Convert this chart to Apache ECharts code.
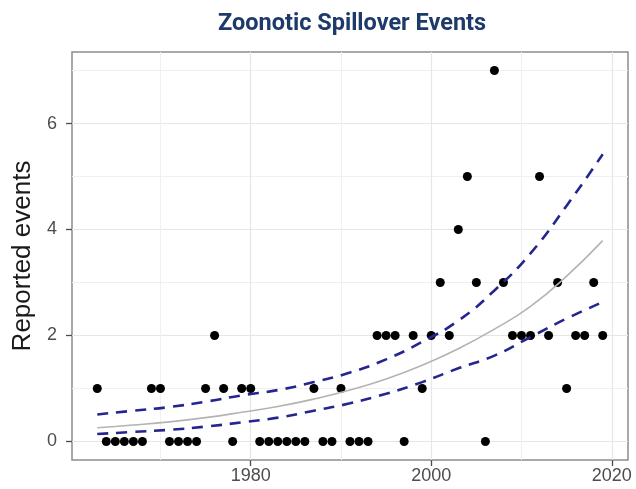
<!DOCTYPE html>
<html>
<head>
<meta charset="utf-8">
<script src="https://cdn.jsdelivr.net/npm/echarts@6/dist/echarts.min.js"></script>
<style>
  html, body { margin: 0; padding: 0; background: #fff; }
  #chart { width: 636px; height: 489px; }
</style>
</head>
<body>
<div id="chart"></div>
<script>
// reported events per year
var years = [1963, 1964, 1965, 1966, 1967, 1968, 1969, 1970, 1971, 1972,
             1973, 1974, 1975, 1976, 1977, 1978, 1979, 1980, 1981, 1982,
             1983, 1984, 1985, 1986, 1987, 1988, 1989, 1990, 1991, 1992,
             1993, 1994, 1995, 1996, 1997, 1998, 1999, 2000, 2001, 2002,
             2003, 2004, 2005, 2006, 2007, 2008, 2009, 2010, 2011, 2012,
             2013, 2014, 2015, 2016, 2017, 2018, 2019];
var events = [1, 0, 0, 0, 0, 0, 1, 1, 0, 0,
              0, 0, 1, 2, 1, 0, 1, 1, 0, 0,
              0, 0, 0, 0, 1, 0, 0, 1, 0, 0,
              0, 2, 2, 2, 0, 2, 1, 2, 3, 2,
              4, 5, 3, 0, 7, 3, 2, 2, 2, 5,
              2, 3, 1, 2, 2, 3, 2];

// fitted trend and interval, every 4 years
var fitYears = [1963, 1967, 1971, 1975, 1979, 1983, 1987, 1991, 1995, 1999, 2003, 2007, 2011, 2015, 2019];
var fitted   = [0.26, 0.31, 0.37, 0.45, 0.55, 0.66, 0.80, 0.97, 1.18, 1.44, 1.75, 2.12, 2.55, 3.12, 3.79];
var upper    = [0.51, 0.58, 0.65, 0.75, 0.87, 0.97, 1.12, 1.30, 1.55, 1.88, 2.28, 2.85, 3.55, 4.45, 5.42];
var lower    = [0.14, 0.18, 0.22, 0.28, 0.36, 0.45, 0.58, 0.72, 0.90, 1.12, 1.38, 1.62, 1.97, 2.32, 2.63];

var xMajor = [1980, 2000, 2020];
var xMinor = [1970, 1990, 2010];
var yMajor = [0, 2, 4, 6];
var yMinor = [1, 3, 5, 7];

function pairs(xs, ys) {
  return xs.map(function (x, i) { return [x, ys[i]]; });
}

var chart = echarts.init(document.getElementById('chart'));

var tickStyle = { color: '#4d4d4d', fontSize: 18, fontFamily: 'Liberation Sans' };

var option = {
  animation: false,
  title: {
    text: 'Zoonotic Spillover Events',
    left: 213,
    top: 7,
    textStyle: { color: '#1d3a6a', fontSize: 23.5, fontWeight: 'bold', fontFamily: 'Roboto' }
  },
  grid: {
    left: 72, right: 8, top: 52, bottom: 29,
    outerBoundsMode: 'none',
    containLabel: false,
    show: true, borderColor: '#8c8c8c', borderWidth: 1.5
  },
  xAxis: [
    {
      type: 'value', min: 1960.2, max: 2021.8,
      axisLine: { show: false, onZero: false },
      axisTick: { show: true, length: 6, customValues: xMajor, lineStyle: { color: '#4d4d4d', width: 1.3 } },
      axisLabel: Object.assign({ customValues: xMajor, margin: 7, formatter: function (v) { return String(v); } }, tickStyle),
      splitLine: { show: true, lineStyle: { color: '#e6e6e6', width: 1.2 } }
    },
    {
      type: 'value', min: 1960.2, max: 2021.8, position: 'bottom',
      axisLine: { show: false, onZero: false },
      axisTick: { show: false, customValues: xMinor },
      axisLabel: { show: false },
      splitLine: { show: true, lineStyle: { color: '#f0f0f0', width: 1 } }
    }
  ],
  yAxis: [
    {
      type: 'value', min: -0.35, max: 7.35,
      name: 'Reported events',
      nameLocation: 'middle',
      nameGap: 33,
      nameTextStyle: { color: '#1a1a1a', fontSize: 26, fontFamily: 'Liberation Sans' },
      axisLine: { show: false, onZero: false },
      axisTick: { show: true, length: 6, customValues: yMajor, lineStyle: { color: '#4d4d4d', width: 1.3 } },
      axisLabel: Object.assign({ customValues: yMajor, margin: 15 }, tickStyle),
      splitLine: { show: true, lineStyle: { color: '#e6e6e6', width: 1.2 } }
    },
    {
      type: 'value', min: -0.35, max: 7.35, position: 'left',
      axisLine: { show: false, onZero: false },
      axisTick: { show: false, customValues: yMinor },
      axisLabel: { show: false },
      splitLine: { show: true, lineStyle: { color: '#f0f0f0', width: 1 } }
    }
  ],
  series: [
    {
      type: 'scatter',
      data: pairs(years, events),
      symbolSize: 9,
      itemStyle: { color: '#000', opacity: 1 },
      z: 2
    },
    {
      type: 'line',
      data: pairs(fitYears, fitted),
      smooth: true,
      showSymbol: false,
      lineStyle: { color: '#b3b3b3', width: 1.6 },
      z: 3
    },
    {
      type: 'line',
      data: pairs(fitYears, upper),
      smooth: true,
      showSymbol: false,
      lineStyle: { color: '#25258f', width: 2.6, type: [11, 8] },
      z: 3
    },
    {
      type: 'line',
      data: pairs(fitYears, lower),
      smooth: true,
      showSymbol: false,
      lineStyle: { color: '#25258f', width: 2.6, type: [11, 8] },
      z: 3
    }
  ]
};

chart.setOption(option);
</script>
</body>
</html>
